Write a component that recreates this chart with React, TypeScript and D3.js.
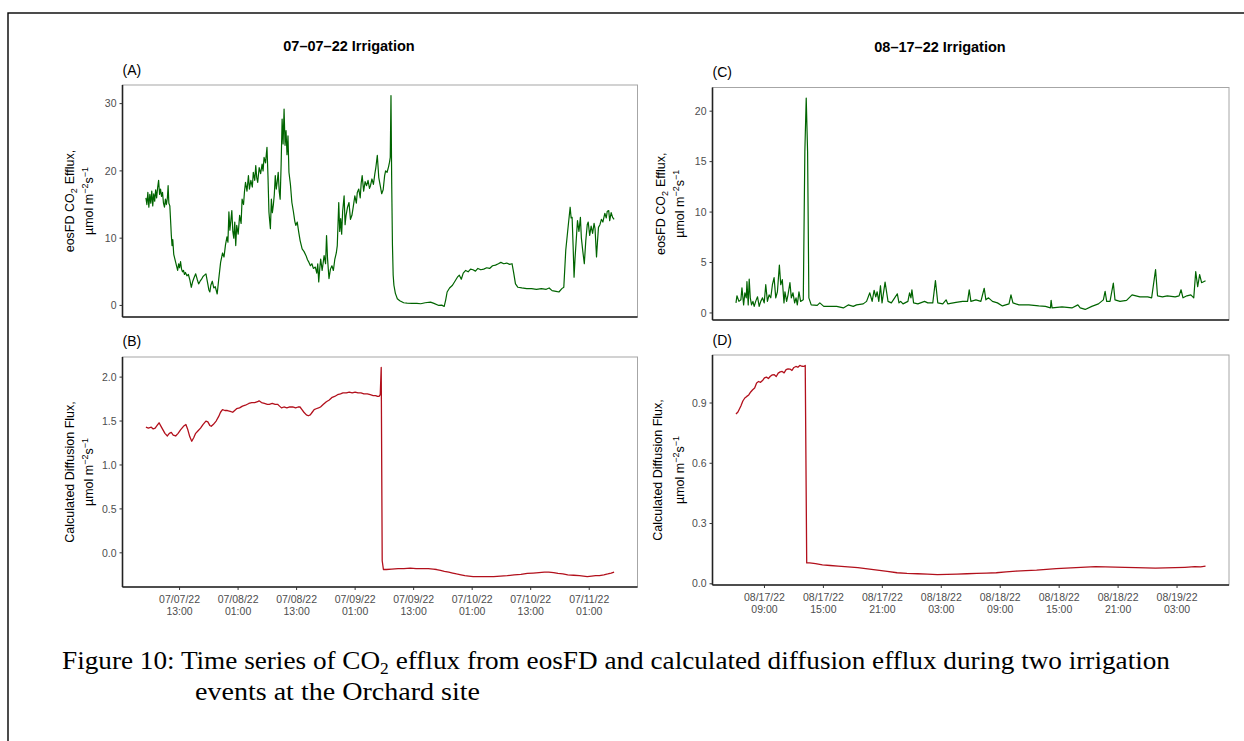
import React from 'react'
import * as d3 from 'd3'

const parseTime = d3.timeParse('%m/%d/%y %H:%M')

// (A) eosFD CO2 efflux, 07-07-22 irrigation (hours since start)
const julyStart = '07/07/22 00:00'
const aHours = [
  6.0, 6.2, 6.4, 6.6, 6.8, 7.0, 7.2, 7.4, 7.6, 7.8, 8.0, 8.2, 8.4, 8.6, 8.8, 9.0, 9.2, 9.4, 9.6, 9.8,
  10.0, 10.2, 10.4, 10.55, 10.7, 10.9, 11.1, 11.2, 11.35, 11.5, 11.7, 11.9, 12.1, 12.3, 12.5, 12.7, 12.9, 13.1, 13.3, 13.5,
  13.7, 13.9, 14.1, 14.4, 14.7, 15.0, 15.3, 15.6, 15.9, 16.2, 16.5, 16.8, 17.1, 17.4, 17.7, 18.0, 18.3, 18.6, 18.9, 19.1,
  19.3, 19.6, 19.9, 20.2, 20.6, 20.9, 21.3, 21.7, 22.0, 22.3, 22.6, 22.8, 23.0, 23.2, 23.4, 23.6, 23.8, 24.0, 24.2, 24.4,
  24.6, 24.9, 25.2, 25.5, 25.7, 26.0, 26.2, 26.4, 26.7, 27.0, 27.2, 27.5, 27.8, 28.0, 28.3, 28.5, 28.7, 28.9, 29.2, 29.5,
  29.8, 30.0, 30.2, 30.5, 30.8, 31.0, 31.2, 31.35, 31.5, 31.7, 31.9, 32.1, 32.3, 32.5, 32.7, 32.9, 33.1, 33.3, 33.5, 33.7,
  33.9, 34.1, 34.3, 34.5, 34.7, 34.9, 35.1, 35.3, 35.6, 35.9, 36.2, 36.5, 36.7, 37.0, 37.3, 37.6, 38.0, 38.4, 38.8, 39.1,
  39.4, 39.7, 40.0, 40.3, 40.7, 41.0, 41.2, 41.4, 41.6, 41.8, 42.1, 42.5, 42.8, 43.0, 43.2, 43.5, 43.8, 44.1, 44.4, 44.7,
  45.0, 45.2, 45.5, 45.7, 45.9, 46.1, 46.3, 46.6, 46.8, 47.0, 47.3, 47.6, 47.9, 48.2, 48.5, 48.8, 49.1, 49.3, 49.6, 49.9,
  50.1, 50.3, 50.6, 50.9, 51.2, 51.5, 51.8, 52.0, 52.3, 52.6, 52.9, 53.1, 53.4, 53.7, 54.0, 54.3, 54.6, 54.9, 55.1, 55.4,
  55.7, 55.9, 56.05, 56.2, 56.35, 56.5, 56.65, 56.8, 57.1, 57.5, 58.0, 58.8, 59.5, 60.5, 61.5, 62.3, 63.2, 64.3, 65.0, 66.0,
  66.6, 67.1, 67.4, 67.7, 68.2, 68.8, 69.3, 69.8, 70.2, 70.6, 71.0, 71.5, 72.0, 72.5, 73.0, 73.5, 74.0, 74.6, 75.2, 75.8,
  76.4, 77.0, 77.6, 78.2, 78.7, 79.3, 79.9, 80.5, 81.0, 81.3, 81.7, 82.2, 83.0, 84.0, 85.0, 86.0, 87.0, 88.0, 88.6, 89.2,
  90.0, 90.6, 91.2, 91.6, 92.0, 92.5, 92.9, 93.1, 93.3, 93.5, 93.7, 93.9, 94.1, 94.4, 94.7, 95.0, 95.2, 95.5, 95.8, 96.1,
  96.4, 96.6, 96.9, 97.2, 97.5, 97.8, 98.0, 98.3, 98.5, 98.7, 99.0, 99.3, 99.6, 100.0, 100.3, 100.5, 100.8, 101.0, 101.3, 101.6,
  101.9
]
const aFlux = [
  16.0, 15.0, 16.8, 14.6, 16.5, 15.2, 17.0, 14.8, 16.6, 15.5, 17.2, 16.0, 17.5, 18.6, 16.5, 17.3, 16.2, 16.8, 15.2, 14.6,
  15.8, 15.0, 16.0, 17.8, 15.2, 14.8, 12.0, 10.5, 8.9, 9.8, 7.6, 7.0, 6.4, 5.8, 5.2, 6.2, 5.6, 6.5, 5.4, 5.0,
  5.2, 4.6, 4.9, 4.4, 4.6, 3.8, 2.7, 3.6, 4.2, 4.7, 3.9, 3.2, 3.6, 3.9, 4.3, 4.5, 4.7, 3.5, 2.3, 2.0,
  3.0, 3.6, 2.6, 2.8, 1.7, 3.8, 6.4, 7.8, 7.2, 9.0, 10.2, 9.4, 13.9, 11.2, 12.6, 14.1, 11.0, 10.0, 12.4, 8.9,
  11.9, 10.6, 13.4, 12.2, 15.8, 15.0, 17.0, 18.3, 17.0, 19.3, 17.3, 18.6, 17.6, 19.8, 18.6, 20.8, 19.0, 18.3, 20.5, 19.6,
  21.0, 20.0, 22.0, 21.2, 23.5, 19.3, 13.9, 12.6, 11.4, 15.8, 13.8, 14.9, 16.5, 19.3, 17.3, 18.4, 19.8, 17.0, 15.8, 21.0,
  27.7, 24.0, 29.2, 23.8, 26.0, 22.4, 25.2, 19.8, 18.0, 15.3, 14.0, 12.5, 11.9, 12.4, 10.9, 9.6, 8.4, 8.0, 7.4, 6.8,
  6.4, 5.9, 6.2, 5.5, 5.7, 4.8, 6.2, 3.5, 5.4, 6.9, 5.2, 7.4, 6.2, 10.4, 7.0, 4.0, 5.4, 5.9, 5.2, 6.9,
  7.8, 8.9, 15.3, 11.0, 12.9, 10.6, 14.0, 16.3, 12.0, 13.4, 14.6, 15.3, 12.8, 13.4, 14.8, 16.3, 15.2, 16.8, 17.3, 16.0,
  18.2, 19.3, 17.0, 18.4, 17.8, 18.6, 17.4, 17.8, 18.8, 18.0, 19.6, 20.5, 22.3, 19.0, 17.8, 16.6, 17.2, 19.3, 20.0, 19.8,
  20.6, 21.3, 22.0, 31.2, 18.0, 9.0, 4.5, 3.0, 1.8, 1.0, 0.7, 0.4, 0.35, 0.3, 0.3, 0.25, 0.4, 0.5, 0.3, 0.0,
  0.05, -0.15, 0.8, 2.0, 2.6, 3.0, 3.6, 4.2, 4.5, 3.9, 4.8, 5.2, 5.0, 5.4, 5.3, 5.1, 5.5, 5.3, 5.4, 5.6,
  5.5, 5.9, 6.0, 6.2, 6.4, 6.2, 6.3, 6.1, 6.2, 5.0, 3.2, 2.7, 2.6, 2.5, 2.5, 2.4, 2.5, 2.4, 2.6, 2.2,
  2.1, 2.0, 2.5, 2.7, 8.2, 11.8, 14.6, 13.0, 13.1, 9.0, 4.2, 7.0, 9.2, 12.6, 11.0, 13.1, 10.0, 8.0, 6.2, 9.6,
  12.0, 12.4, 10.4, 11.8, 10.7, 12.2, 11.4, 7.2, 9.5, 11.6, 12.0, 12.8, 12.4, 13.7, 13.0, 14.0, 14.1, 12.6, 13.8, 13.1,
  12.8
]

// (B) calculated diffusion flux, 07-07-22 irrigation
const bHours = [
  6.1, 6.6, 7.2, 7.6, 8.0, 8.4, 8.8, 9.2, 9.6, 10.0, 10.5, 10.9, 11.3, 11.7, 12.2, 12.7, 13.2, 13.8, 14.3, 14.7,
  15.1, 15.5, 15.9, 16.3, 16.8, 17.3, 17.8, 18.4, 18.8, 19.2, 19.5, 19.9, 20.5, 21.0, 21.4, 21.8, 22.3, 22.8, 23.4, 23.9,
  24.3, 24.7, 25.3, 25.9, 26.5, 27.2, 27.8, 28.4, 29.0, 29.3, 29.8, 30.4, 31.0, 31.4, 32.0, 32.6, 33.1, 33.5, 33.9, 34.4,
  35.0, 35.6, 36.2, 36.8, 37.3, 37.7, 38.1, 38.5, 39.0, 39.4, 39.8, 40.2, 40.6, 41.0, 41.5, 41.9, 42.5, 43.1, 43.7, 44.3,
  44.8, 45.4, 46.0, 46.5, 47.2, 47.8, 48.4, 49.0, 49.6, 50.2, 50.8, 51.5, 52.1, 52.7, 53.2, 53.6, 53.9, 54.15, 54.35, 54.55,
  54.8, 55.4, 56.5, 57.8, 59.0, 60.3, 61.5, 62.8, 64.0, 65.0, 65.7, 66.5, 67.3, 68.2, 69.0, 69.8, 70.7, 71.5, 72.3, 73.2,
  74.5, 75.8, 77.4, 78.8, 80.2, 81.6, 83.0, 84.3, 85.5, 86.7, 87.8, 88.7, 89.7, 90.6, 91.6, 92.6, 93.8, 95.0, 95.8, 96.6,
  97.5, 98.3, 99.1, 100.0, 100.8, 101.5, 102.1
]
const bFlux = [
  1.43, 1.42, 1.43, 1.41, 1.42, 1.45, 1.48, 1.44, 1.40, 1.36, 1.33, 1.36, 1.37, 1.34, 1.33, 1.36, 1.40, 1.44, 1.46, 1.40,
  1.32, 1.27, 1.31, 1.36, 1.39, 1.42, 1.46, 1.50, 1.49, 1.45, 1.44, 1.46, 1.50, 1.55, 1.60, 1.63, 1.62, 1.62, 1.61, 1.60,
  1.62, 1.64, 1.65, 1.67, 1.68, 1.70, 1.71, 1.71, 1.72, 1.73, 1.71, 1.70, 1.69, 1.69, 1.70, 1.69, 1.69, 1.67, 1.65, 1.66,
  1.65, 1.66, 1.66, 1.65, 1.66, 1.66, 1.63, 1.60, 1.57, 1.56, 1.57, 1.60, 1.63, 1.64, 1.65, 1.66, 1.69, 1.72, 1.74, 1.77,
  1.78, 1.80, 1.81, 1.82, 1.82, 1.83, 1.82, 1.83, 1.82, 1.82, 1.81, 1.81, 1.80, 1.79, 1.79, 1.78, 1.78, 1.80, 2.11, -0.09,
  -0.19, -0.19, -0.185, -0.18, -0.18, -0.175, -0.18, -0.18, -0.18, -0.185, -0.19, -0.20, -0.21, -0.22, -0.23, -0.24, -0.25, -0.26, -0.265, -0.27,
  -0.27, -0.27, -0.27, -0.265, -0.26, -0.25, -0.245, -0.235, -0.23, -0.225, -0.22, -0.22, -0.225, -0.235, -0.24, -0.25, -0.255, -0.26, -0.265, -0.27,
  -0.265, -0.26, -0.26, -0.25, -0.24, -0.23, -0.22
]

// (C) eosFD CO2 efflux, 08-17-22 irrigation
const augStart = '08/17/22 00:00'
const cHours = [
  5.97, 6.07, 6.27, 6.47, 6.58, 6.75, 6.88, 7.02, 7.09, 7.22, 7.32, 7.43, 7.56, 7.70, 7.83, 8.0, 8.17, 8.34, 8.5, 8.68,
  8.85, 9.01, 9.18, 9.35, 9.52, 9.69, 9.86, 10.03, 10.2, 10.4, 10.54, 10.7, 10.87, 10.97, 11.14, 11.28, 11.48, 11.62, 11.79, 11.96,
  12.1, 12.23, 12.4, 12.57, 12.84, 13.0, 13.14, 13.28, 13.41, 13.65, 14.26, 14.53, 14.93, 15.58, 16.25, 16.93, 17.43, 17.94, 18.28, 18.96,
  19.3, 19.63, 19.87, 20.07, 20.24, 20.38, 20.55, 20.72, 20.88, 21.19, 21.49, 21.83, 22.17, 22.44, 22.61, 22.78, 23.02, 23.52, 23.69, 23.83,
  23.93, 24.1, 24.54, 25.22, 25.55, 26.06, 26.33, 26.57, 27.08, 27.42, 27.59, 28.43, 29.1, 29.61, 29.78, 29.95, 30.46, 30.97, 31.31, 31.48,
  31.75, 32.15, 32.66, 33.17, 33.84, 34.04, 34.24, 34.85, 35.87, 36.88, 37.56, 38.07, 38.14, 38.24, 39.25, 40.26, 40.87, 41.11, 41.62, 42.29,
  42.97, 43.47, 43.65, 43.81, 44.15, 44.49, 44.66, 45.17, 45.84, 46.4, 47.2, 48.0, 48.4, 48.8, 49.0, 49.5, 50.0, 50.8, 51.2, 51.4,
  51.6, 52.0, 52.4, 52.7, 52.9, 53.1, 53.3, 53.5, 53.7, 53.9
]
const cFlux = [
  1.0, 1.7, 1.15, 1.3, 2.5, 0.8, 2.0, 1.5, 3.1, 0.8, 3.35, 1.5, 0.8, 1.15, 0.65, 1.2, 1.6, 0.65, 1.15, 1.5,
  1.0, 2.8, 1.15, 1.8, 1.5, 2.8, 3.5, 1.5, 2.1, 4.75, 2.8, 3.3, 1.0, 2.1, 1.15, 1.8, 3.0, 1.5, 2.0, 1.0,
  1.5, 0.8, 2.1, 1.15, 1.3, 16.0, 21.3, 16.0, 1.5, 0.8, 0.75, 1.0, 0.65, 0.65, 0.65, 0.5, 0.8, 0.65, 0.8, 0.9,
  1.15, 2.0, 1.15, 2.25, 1.6, 2.1, 1.15, 2.7, 1.0, 3.05, 1.15, 1.0, 1.5, 1.9, 1.0, 1.15, 0.9, 1.15, 2.0, 1.5,
  2.3, 1.0, 0.9, 1.15, 1.0, 1.0, 3.2, 1.0, 0.9, 1.3, 0.9, 1.05, 1.15, 1.15, 2.3, 1.15, 1.3, 1.15, 2.45, 1.3,
  1.5, 1.15, 1.0, 0.7, 0.9, 1.8, 1.0, 0.8, 0.8, 0.7, 0.65, 0.5, 1.25, 0.5, 0.6, 0.5, 0.8, 0.5, 0.35, 0.65,
  0.9, 1.3, 2.15, 1.15, 1.15, 2.95, 1.3, 1.15, 1.25, 1.8, 1.6, 1.6, 1.5, 4.3, 1.7, 1.6, 1.7, 1.6, 1.7, 2.3,
  1.5, 1.7, 1.8, 1.5, 4.1, 2.6, 3.8, 3.0, 3.1, 3.2
]

// (D) calculated diffusion flux, 08-17-22 irrigation
const dHours = [
  6.1, 6.3, 6.45, 6.6, 6.8, 7.0, 7.2, 7.4, 7.6, 7.8, 8.0, 8.2, 8.4, 8.6, 8.8, 9.0, 9.2, 9.4, 9.6, 9.8,
  10.0, 10.2, 10.4, 10.6, 10.8, 11.0, 11.2, 11.4, 11.6, 11.8, 12.0, 12.2, 12.4, 12.6, 12.8, 13.0, 13.15, 13.3, 13.6, 14.2,
  14.9, 15.7, 16.5, 17.5, 18.5, 19.5, 20.5, 21.5, 22.5, 23.5, 24.6, 25.6, 26.6, 27.6, 28.6, 29.6, 30.6, 31.6, 32.6, 33.6,
  34.6, 35.6, 36.7, 37.7, 38.7, 39.7, 40.7, 41.7, 42.7, 43.7, 44.7, 45.7, 46.8, 47.8, 48.8, 49.8, 50.8, 51.8, 52.8, 53.4,
  53.9
]
const dFlux = [
  0.845, 0.855, 0.87, 0.885, 0.91, 0.925, 0.933, 0.94, 0.955, 0.966, 0.975, 1.0, 1.007, 1.003, 1.012, 1.025, 1.029, 1.022, 1.033, 1.04,
  1.041, 1.032, 1.049, 1.055, 1.057, 1.05, 1.066, 1.07, 1.069, 1.062, 1.077, 1.082, 1.078, 1.087, 1.083, 1.082, 1.087, 0.104, 0.104, 0.10,
  0.094, 0.091, 0.088, 0.084, 0.080, 0.074, 0.068, 0.062, 0.055, 0.052, 0.05, 0.048, 0.046, 0.047, 0.048, 0.05, 0.052, 0.053, 0.055, 0.059,
  0.063, 0.066, 0.068, 0.072, 0.075, 0.078, 0.080, 0.083, 0.085, 0.084, 0.083, 0.082, 0.080, 0.079, 0.078, 0.079, 0.080, 0.082, 0.085, 0.084,
  0.088
]

const julyTicks = [
  '07/07/22 13:00', '07/08/22 01:00', '07/08/22 13:00', '07/09/22 01:00',
  '07/09/22 13:00', '07/10/22 01:00', '07/10/22 13:00', '07/11/22 01:00'
]
const augTicks = [
  '08/17/22 09:00', '08/17/22 15:00', '08/17/22 21:00', '08/18/22 03:00',
  '08/18/22 09:00', '08/18/22 15:00', '08/18/22 21:00', '08/19/22 03:00'
]
const aYTicks = [0, 10, 20, 30]
const bYTicks = [0, 0.5, 1, 1.5, 2]
const cYTicks = [0, 5, 10, 15, 20]
const dYTicks = [0, 0.3, 0.6, 0.9]

const SANS = 'Liberation Sans, Arial, Helvetica, sans-serif'
const GREEN = '#006400'
const RED = '#b2101c'

type Box = { left: number; right: number; top: number; bottom: number }

function pad(ext: [number, number]): [number, number] {
  const p = (ext[1] - ext[0]) * 0.05
  return [ext[0] - p, ext[1] + p]
}

function toDates(start: string, hours: number[]) {
  const t0 = parseTime(start)!.getTime()
  return hours.map((h) => new Date(t0 + h * 3600 * 1000))
}

const YTitle = ({ x1, x2, cy, first }: { x1: number; x2: number; cy: number; first: React.ReactNode }) => (
  <g fontFamily={SANS} fontSize={12.5} fill="#000" textAnchor="middle">
    <text transform={`translate(${x1},${cy}) rotate(-90)`}>{first}</text>
    <text transform={`translate(${x2},${cy}) rotate(-90)`}>
      µmol m<tspan fontSize={9} dy={-5}>−2</tspan>
      <tspan dy={5}>s</tspan>
      <tspan fontSize={9} dy={-5}>−1</tspan>
    </text>
  </g>
)

function Panel(props: {
  start: string
  hours: number[]
  values: number[]
  box: Box
  yTicks: number[]
  yFormat: string
  xTicks?: string[]
  color: string
  width: number
}) {
  const { start, hours, values, box, yTicks, yFormat, xTicks, color, width } = props
  const dates = toDates(start, hours)
  const tExt = pad(d3.extent(dates, (d) => d.getTime()) as [number, number])
  const x = d3.scaleTime().domain([new Date(tExt[0]), new Date(tExt[1])]).range([box.left, box.right])
  const y = d3.scaleLinear().domain(pad(d3.extent(values) as [number, number])).range([box.bottom, box.top])
  const path = d3
    .line<number>()
    .x((_, i) => x(dates[i]))
    .y((d) => y(d))(values)
  const fmt = d3.format(yFormat)

  return (
    <g>
      <rect
        x={box.left}
        y={box.top}
        width={box.right - box.left}
        height={box.bottom - box.top}
        fill="#fff"
        stroke="#a6a6a6"
        strokeWidth={1}
      />
      <path d={path || ''} fill="none" stroke={color} strokeWidth={width} strokeLinejoin="round" />
      <line x1={box.left} x2={box.left} y1={box.top} y2={box.bottom} stroke="#222" strokeWidth={1.6} />
      <line x1={box.left} x2={box.right} y1={box.bottom} y2={box.bottom} stroke="#222" strokeWidth={1.6} />
      {yTicks.map((v) => (
        <g key={v} transform={`translate(0,${y(v)})`}>
          <line x1={box.left - 3} x2={box.left} stroke="#333" strokeWidth={1} />
          <text x={box.left - 6} dy="0.35em" textAnchor="end" fontFamily={SANS} fontSize={10.5} fill="#4d4d4d">
            {fmt(v)}
          </text>
        </g>
      ))}
      {xTicks &&
        xTicks.map((s) => {
          const [day, time] = s.split(' ')
          const px = x(parseTime(s)!)
          return (
            <g key={s} transform={`translate(${px},${box.bottom})`}>
              <line y1={0} y2={3} stroke="#333" strokeWidth={1} />
              <text textAnchor="middle" fontFamily={SANS} fontSize={10.5} fill="#4d4d4d">
                <tspan x={0} y={16}>{day}</tspan>
                <tspan x={0} y={27.5}>{time}</tspan>
              </text>
            </g>
          )
        })}
    </g>
  )
}

const boxA: Box = { left: 122.5, right: 637.5, top: 85, bottom: 317 }
const boxB: Box = { left: 122.5, right: 637.5, top: 357, bottom: 587 }
const boxC: Box = { left: 712.5, right: 1229, top: 87.5, bottom: 320 }
const boxD: Box = { left: 712.5, right: 1229, top: 355, bottom: 585 }

const effluxTitle = (
  <>
    eosFD CO<tspan fontSize={9} dy={3}>2</tspan>
    <tspan dy={-3} dx={4}>Efflux,</tspan>
  </>
)
const diffTitle = <>Calculated Diffusion Flux,</>

export default function App() {
  return (
    <svg
      width={1244}
      height={741}
      style={{ position: 'absolute', left: 0, top: 0, background: '#fff' }}
    >
      <rect x={0} y={0} width={1244} height={741} fill="#fff" />
      <rect x={8} y={13} width={1400} height={900} fill="none" stroke="#000" strokeWidth={1.4} />

      <text x={349} y={50.5} textAnchor="middle" fontFamily={SANS} fontWeight="bold" fontSize={14.5}>
        07–07–22 Irrigation
      </text>
      <text x={940} y={51.5} textAnchor="middle" fontFamily={SANS} fontWeight="bold" fontSize={14.5}>
        08–17–22 Irrigation
      </text>

      <g fontFamily={SANS} fontSize={14}>
        <text x={boxA.left} y={75}>(A)</text>
        <text x={boxB.left} y={346}>(B)</text>
        <text x={boxC.left} y={76.5}>(C)</text>
        <text x={boxD.left} y={345}>(D)</text>
      </g>

      <Panel start={julyStart} hours={aHours} values={aFlux} box={boxA} yTicks={aYTicks} yFormat="d" color={GREEN} width={1.2} />
      <Panel start={julyStart} hours={bHours} values={bFlux} box={boxB} yTicks={bYTicks} yFormat=".1f" xTicks={julyTicks} color={RED} width={1.3} />
      <Panel start={augStart} hours={cHours} values={cFlux} box={boxC} yTicks={cYTicks} yFormat="d" color={GREEN} width={1.2} />
      <Panel start={augStart} hours={dHours} values={dFlux} box={boxD} yTicks={dYTicks} yFormat=".1f" xTicks={augTicks} color={RED} width={1.3} />

      <YTitle x1={74} x2={93} cy={(boxA.top + boxA.bottom) / 2} first={effluxTitle} />
      <YTitle x1={74} x2={93} cy={(boxB.top + boxB.bottom) / 2} first={diffTitle} />
      <YTitle x1={664.5} x2={684} cy={(boxC.top + boxC.bottom) / 2} first={effluxTitle} />
      <YTitle x1={661.5} x2={684} cy={(boxD.top + boxD.bottom) / 2} first={diffTitle} />

      <g fontFamily="Liberation Serif, Times New Roman, serif" fontSize={25} fill="#000">
        <text x={62} y={668.5} textLength={1108} lengthAdjust="spacingAndGlyphs">
          Figure 10: Time series of CO<tspan fontSize={16} dy={5}>2</tspan>
          <tspan dy={-5}> efflux from eosFD and calculated diffusion efflux during two irrigation</tspan>
        </text>
        <text x={195} y={699.5} textLength={285} lengthAdjust="spacingAndGlyphs">
          events at the Orchard site
        </text>
      </g>
    </svg>
  )
}
